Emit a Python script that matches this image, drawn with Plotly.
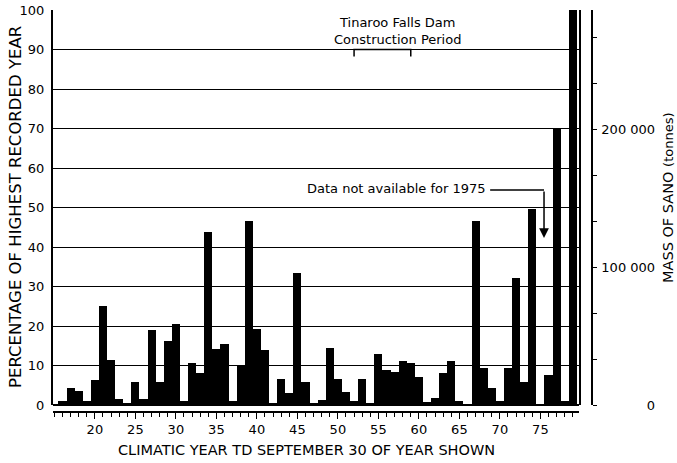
import plotly.graph_objects as go

# ---- data ----
years = list(range(16, 80))
pct_of_highest = [
    1.1, 4.2, 3.6, 0.9, 6.3, 25.0, 11.3, 1.6, 0.5, 5.8,      # 16-25
    1.6, 18.9, 5.8, 16.1, 20.4, 1.0, 10.7, 8.0, 43.9, 14.3,  # 26-35
    15.4, 1.0, 9.8, 46.6, 19.3, 14.0, 0.6, 6.5, 3.1, 33.4,   # 36-45
    5.9, 0.6, 1.2, 14.5, 6.7, 3.4, 1.0, 6.7, 0.5, 12.8,      # 46-55
    8.8, 8.4, 11.2, 10.7, 7.0, 0.7, 1.9, 8.0, 11.2, 1.0,     # 56-65
    0.0, 46.6, 9.4, 4.2, 1.0, 9.4, 32.1, 5.9, 49.5, None,    # 66-75
    7.5, 70.0, 1.0, 100.0,                                    # 76-79
]
x_tick_years = [20, 25, 30, 35, 40, 45, 50, 55, 60, 65, 70, 75]
y_ticks = [0, 10, 20, 30, 40, 50, 60, 70, 80, 90, 100]
mass_ticks = [0, 100000, 200000]
mass_tick_text = ["\u2007\u2007\u2007\u00a0\u2007\u20070", "100\u00a0000", "200\u00a0000"]
mass_max = 286500
construction_start, construction_end = 52, 59
missing_year = 75.45

FONT = "DejaVu Sans"

fig = go.Figure()
fig.add_trace(go.Bar(
    x=years, y=pct_of_highest, width=1,
    marker=dict(color="black", line=dict(width=0)),
    showlegend=False, hoverinfo="x+y",
))
# invisible trace so the secondary (mass) axis is drawn
fig.add_trace(go.Scatter(x=[years[0]], y=[0], yaxis="y2", mode="markers",
                         marker=dict(opacity=0), showlegend=False, hoverinfo="skip"))

fig.update_layout(
    template="none",
    width=677, height=463,
    margin=dict(l=53, r=85, t=10, b=51),
    paper_bgcolor="white", plot_bgcolor="white",
    font=dict(family=FONT, color="black", size=13),
    bargap=0,
    xaxis=dict(
        domain=[0, 0.9759], anchor="free", position=0,
        range=[14.83, 79.77],
        showgrid=False, zeroline=False,
        showline=True, linecolor="black", linewidth=1.5,
        tickmode="array", tickvals=x_tick_years,
        ticks="outside", ticklen=6, tickwidth=1.2, tickcolor="black",
        minor=dict(tickmode="array", tickvals=list(range(15, 80)),
                   ticks="outside", ticklen=4, tickwidth=1, tickcolor="black"),
        tickfont=dict(size=13),
        automargin=False,
    ),
    yaxis=dict(
        domain=[0.0174, 1], range=[0, 100],
        tickmode="array", tickvals=y_ticks,
        showgrid=True, gridcolor="black", gridwidth=1.2,
        zeroline=True, zerolinecolor="black", zerolinewidth=1.5,
        showline=True, linecolor="black", linewidth=2, mirror=True,
        ticks="", ticklabelstandoff=4,
        tickfont=dict(size=13),
        automargin=False,
    ),
    yaxis2=dict(
        overlaying="y", side="right", anchor="free", position=1,
        range=[0, mass_max],
        showgrid=False, zeroline=False,
        showline=True, linecolor="black", linewidth=1.5,
        tickmode="array", tickvals=mass_ticks, ticktext=mass_tick_text,
        ticks="outside", ticklen=4, tickwidth=1.2, tickcolor="black",
        minor=dict(tickmode="linear", tick0=0, dtick=100000 / 3,
                   ticks="outside", ticklen=4, tickwidth=1, tickcolor="black"),
        ticklabelstandoff=2,
        tickfont=dict(size=13),
        automargin=False,
    ),
)

# axis titles
fig.add_annotation(
    text="PERCENTAGE OF HIGHEST RECORDED YEAR",
    xref="paper", yref="paper", x=(15 - 53) / 539, y=(412 - 207) / 402,
    textangle=-90, showarrow=False, font=dict(size=16.5),
    xanchor="center", yanchor="middle",
)
fig.add_annotation(
    text="CLIMATIC YEAR TD SEPTEMBER 30 OF YEAR SHOWN",
    xref="paper", yref="paper", x=(306 - 53) / 539, y=(412 - 450) / 402,
    showarrow=False, font=dict(size=14.5),
    xanchor="center", yanchor="middle",
)
fig.add_annotation(
    text="MASS OF SANO <span style='font-size:13px'>(tonnes)</span>",
    xref="paper", yref="paper", x=(668 - 53) / 539, y=(412 - 198) / 402,
    textangle=-90, showarrow=False, font=dict(size=14.5),
    xanchor="center", yanchor="middle",
)

# Construction period label + bracket
fig.add_annotation(
    text="Tinaroo Falls Dam<br>Construction Period",
    x=(construction_start + construction_end) / 2 + 1.8, y=94.6,
    xref="x", yref="y", showarrow=False, font=dict(size=13),
    xanchor="center", yanchor="middle",
)
fig.add_shape(type="path", xref="x", yref="y",
              path=f"M {construction_start},88.2 L {construction_start},90.0 "
                   f"L {construction_end},90.0 L {construction_end},88.2",
              line=dict(color="black", width=1.5))

# Data not available note
fig.add_annotation(
    text="Data not available for 1975",
    x=68.5, y=54.8, xref="x", yref="y", showarrow=False,
    font=dict(size=13), xanchor="right", yanchor="middle",
)
fig.add_shape(type="line", xref="x", yref="y",
              x0=68.8, y0=54.4, x1=missing_year, y1=54.4,
              line=dict(color="black", width=1.5))
fig.add_annotation(
    x=missing_year, y=42.3, ax=missing_year, ay=54.4,
    xref="x", yref="y", axref="x", ayref="y",
    showarrow=True, arrowhead=2, arrowsize=1.3, arrowwidth=1.5,
    arrowcolor="black", text="",
)

fig.write_html("out.html", config={"displayModeBar": False},
               post_script="document.body.style.margin='0px';")
